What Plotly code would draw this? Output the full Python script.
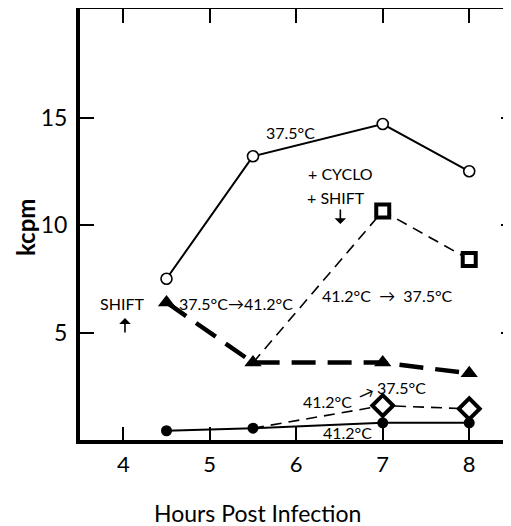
import plotly.graph_objects as go

# Data
hours = [4.5, 5.5, 7, 8]
kcpm_37 = [7.5, 13.2, 14.7, 12.5]          # open circles, 37.5 C
kcpm_shift_up = [6.4, 3.6, 3.6, 3.1]       # filled triangles, 37.5 -> 41.2
cyclo_hours = [5.5, 7, 8]
kcpm_cyclo = [3.6, 10.65, 8.4]             # open squares, +cyclo +shift
kcpm_41 = [0.43, 0.55, 0.8, 0.8]           # filled circles, 41.2 C
down_hours = [5.5, 7, 8]
kcpm_shift_down = [0.55, 1.6, 1.45]        # open diamonds, 41.2 -> 37.5

x_ticks = [4, 5, 6, 7, 8]
y_ticks = [5, 10, 15]

FONT = "Lato"
X_RANGE = [3.5, 8.506]
Y_RANGE = [0, 20.05]
fig = go.Figure()

fig.add_trace(go.Scatter(
    x=hours, y=kcpm_37, mode="lines+markers",
    line=dict(color="black", width=2),
    marker=dict(symbol="circle", size=11, color="white",
                line=dict(color="black", width=1.6)),
    name="37.5°C"))

fig.add_trace(go.Scatter(
    x=hours, y=kcpm_shift_up, mode="lines+markers",
    line=dict(color="black", width=4.5, dash="24px,12px"),
    marker=dict(symbol="triangle-up", size=15, color="black"),
    name="37.5°C→41.2°C"))

# +cyclo +shift: dashed line then square markers on measured points
fig.add_trace(go.Scatter(
    x=cyclo_hours, y=kcpm_cyclo, mode="lines",
    line=dict(color="black", width=1.6, dash="11px,7px"),
    name="+CYCLO +SHIFT"))
fig.add_trace(go.Scatter(
    x=cyclo_hours[1:], y=kcpm_cyclo[1:], mode="markers",
    marker=dict(symbol="square", size=13, color="white",
                line=dict(color="black", width=4)),
    showlegend=False))

# 41.2 -> 37.5 shift: dashed line then diamond markers
fig.add_trace(go.Scatter(
    x=down_hours, y=kcpm_shift_down, mode="lines",
    line=dict(color="black", width=1.6, dash="11px,7px"),
    name="41.2°C→37.5°C"))
fig.add_trace(go.Scatter(
    x=down_hours[1:], y=kcpm_shift_down[1:], mode="markers",
    marker=dict(symbol="diamond", size=16, color="white",
                line=dict(color="black", width=4)),
    showlegend=False))

fig.add_trace(go.Scatter(
    x=hours, y=kcpm_41, mode="lines+markers",
    line=dict(color="black", width=2),
    marker=dict(symbol="circle", size=11, color="black"),
    name="41.2°C"))

# invisible trace for mirrored axes (top / right tick marks)
fig.add_trace(go.Scatter(x=[None], y=[None], xaxis="x2", yaxis="y2",
                         showlegend=False, hoverinfo="skip"))

ann_font = dict(family=FONT, size=16, color="black")
annots = [
    (5.93, 14.3, "37.5°C", 0),
    (6.51, 12.4, "+ CYCLO", 0),
    (6.46, 11.3, "+ SHIFT", 0),
    (3.99, 6.37, "SHIFT", 0),
    (5.3, 6.37, "37.5°C→41.2°C", 0),
    (7.06, 6.74, "41.2°C  →  37.5°C", 0),
    (6.36, 1.77, "41.2°C", 0),
    (6.81, 2.19, "→", -25),
    (7.22, 2.42, "37.5°C", 0),
    (6.59, 0.37, "41.2°C", 0),
]
for x, y, t, ang in annots:
    fig.add_annotation(x=x, y=y, text=t, showarrow=False, font=ann_font,
                       textangle=ang, xanchor="center", yanchor="middle")

# small pointer arrows (SHIFT up-arrow, +SHIFT down-arrow)
for x, y, ay in [(4.02, 5.67, 16), (6.51, 10.05, -16)]:
    fig.add_annotation(x=x, y=y, ax=0, ay=ay, text="", showarrow=True,
                       arrowhead=1, arrowsize=1.2, arrowwidth=1.6, arrowcolor="black")

# axis titles
fig.add_annotation(x=0.411, y=-0.169, xref="paper", yref="paper",
                   text="Hours Post Infection", showarrow=False,
                   xanchor="center", yanchor="middle",
                   font=dict(family=FONT, size=23, color="black"))
fig.add_annotation(x=-0.127, y=0.494, xref="paper", yref="paper",
                   text="kcpm", showarrow=False, textangle=-90,
                   xanchor="center", yanchor="middle", borderpad=0,
                   font=dict(family=FONT, size=24, color="black", weight="bold"))

fig.update_layout(
    width=511, height=526,
    margin=dict(l=72, r=6, t=1, b=94, autoexpand=False),
    paper_bgcolor="white", plot_bgcolor="white",
    showlegend=False,
    font=dict(family=FONT, color="black"),
    xaxis=dict(range=X_RANGE, tickvals=x_ticks, ticks="inside", ticklen=13,
               tickwidth=2, tickcolor="black", showgrid=False, zeroline=False,
               showline=True, linewidth=4, linecolor="black", automargin=False,
               tickfont=dict(family=FONT, size=22), ticklabelstandoff=2),
    yaxis=dict(range=Y_RANGE, tickvals=y_ticks, ticks="inside", ticklen=14,
               tickwidth=2, tickcolor="black", showgrid=False, zeroline=False,
               showline=True, linewidth=4, linecolor="black", automargin=False,
               tickfont=dict(family=FONT, size=23), ticklabelstandoff=4),
    xaxis2=dict(overlaying="x", side="top", range=X_RANGE, tickvals=x_ticks,
                ticks="inside", ticklen=14, tickwidth=2, tickcolor="black",
                showticklabels=False, showgrid=False, zeroline=False, automargin=False,
                showline=True, linewidth=4, linecolor="black"),
    yaxis2=dict(overlaying="y", side="right", range=Y_RANGE, tickvals=y_ticks,
                ticks="inside", ticklen=12, tickwidth=2, tickcolor="black", automargin=False,
                showticklabels=False, showgrid=False, zeroline=False, showline=False),
)

fig.write_html("out.html")
